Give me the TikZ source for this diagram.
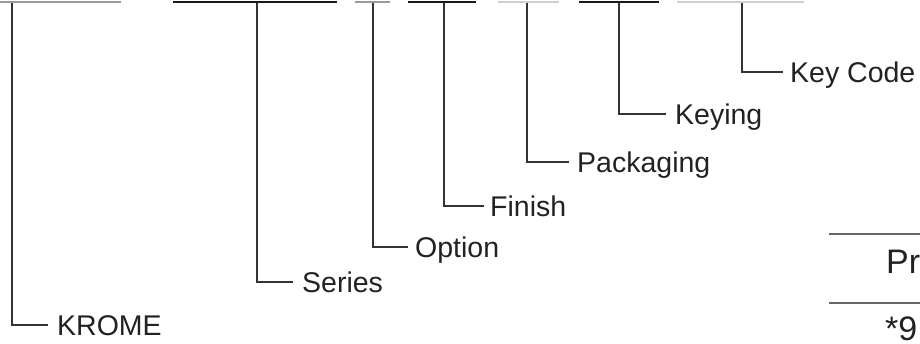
\documentclass[tikz,border=0pt]{standalone}
\usepackage{fontspec}
\setmainfont{Liberation Sans}
\definecolor{txt}{HTML}{222222}
\definecolor{ln}{HTML}{333333}
\definecolor{bdark}{HTML}{1A1A1A}
\definecolor{bmid}{HTML}{9A9A9A}
\definecolor{blight}{HTML}{CFCFCF}
\definecolor{rule}{HTML}{666666}
\begin{document}
\begin{tikzpicture}[x=1pt,y=-1pt,
  lbl/.style={anchor=west,inner sep=0pt,text height=20pt,text depth=0pt,
    font=\fontsize{28.5}{32}\selectfont,text=txt},
  biglbl/.style={lbl,text height=24pt,font=\fontsize{34}{38}\selectfont},
  conn/.style={draw=ln,line width=1.2pt},
  bar/.style={line width=2pt}]
\useasboundingbox (0,0) rectangle (920,343);
% top bars
\draw[bar,bmid]   (0,1.5) -- (121,1.5);
\draw[bar,bdark]  (173,1.5) -- (337,1.5);
\draw[bar,bmid]   (355,1.5) -- (390,1.5);
\draw[bar,bdark]  (408,1.5) -- (476,1.5);
\draw[bar,blight] (498,1.5) -- (559,1.5);
\draw[bar,bdark]  (579,1.5) -- (659,1.5);
\draw[bar,blight] (677,1.5) -- (804,1.5);
% connector start points
\coordinate (t1) at (12,2.5);
\coordinate (t2) at (257,2.5);
\coordinate (t3) at (373,2.5);
\coordinate (t4) at (444,2.5);
\coordinate (t5) at (527,2.5);
\coordinate (t6) at (619,2.5);
\coordinate (t7) at (742,2.5);
% labels
\node[lbl] (krome) at (57,325) {KROME};
\node[lbl] (series) at (302,282) {Series};
\node[lbl] (option) at (415,247) {Option};
\node[lbl] (finish) at (490,206) {Finish};
\node[lbl] (pack) at (577,162) {Packaging};
\node[lbl] (keying) at (675,114) {Keying};
\node[lbl] (keycode) at (790,72) {Key Code};
% connectors
\draw[conn] (t1) |- ([xshift=-9pt]krome.west);
\draw[conn] (t2) |- ([xshift=-9pt]series.west);
\draw[conn] (t3) |- ([xshift=-7pt]option.west);
\draw[conn] (t4) |- ([xshift=-6pt]finish.west);
\draw[conn] (t5) |- ([xshift=-8pt]pack.west);
\draw[conn] (t6) |- ([xshift=-9pt]keying.west);
\draw[conn] (t7) |- ([xshift=-7pt]keycode.west);
% right table fragment
\draw[rule,line width=1.3pt] (829,234) -- (920,234);
\draw[rule,line width=1.3pt] (829,303) -- (920,303);
\node[biglbl] (pr) at (886,261) {Pr};
\node[biglbl] (nine) at (885,328) {*9};
\end{tikzpicture}
\end{document}
